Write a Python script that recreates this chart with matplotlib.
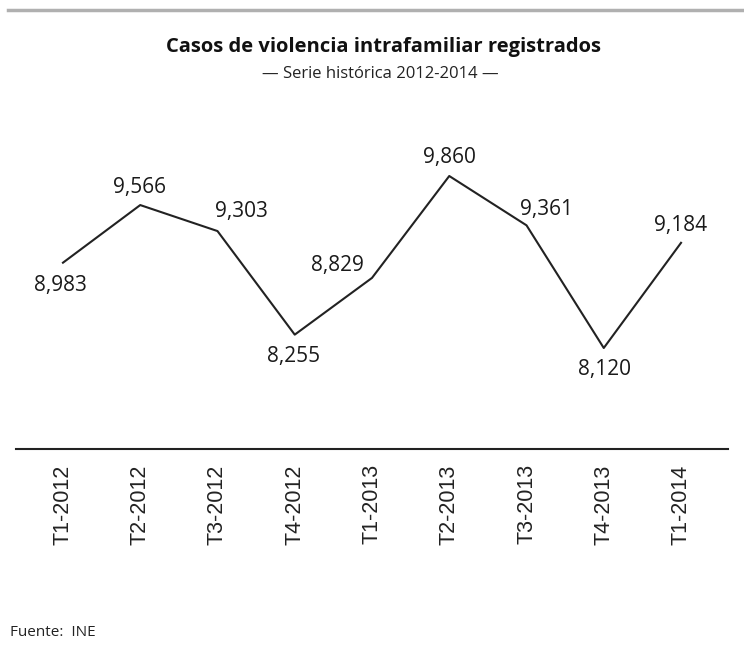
import matplotlib
matplotlib.use("Agg")
import matplotlib.pyplot as plt

# data
periodos = ["T1-2012", "T2-2012", "T3-2012", "T4-2012", "T1-2013",
            "T2-2013", "T3-2013", "T4-2013", "T1-2014"]
casos = [8983, 9566, 9303, 8255, 8829, 9860, 9361, 8120, 9184]

# label offsets (pixels) around each point
offsets = [(-3, -23), (-1, 18), (24, 20), (-1, -22), (-35, 12),
           (0, 19), (20, 16), (1, -22), (0, 17)]

fig = plt.figure(figsize=(7.44, 6.5), dpi=100)
ax = fig.add_axes([16 / 744, 1 - 449 / 650, 712 / 744, 349 / 650])

x = list(range(len(casos)))
ax.plot(x, casos, color="#222222", lw=1.5)

for i, v in enumerate(casos):
    ax.annotate(f"{v:,}", (i, v), xytext=offsets[i], textcoords="offset pixels",
                ha="center", va="center", fontsize=15, color="#1a1a1a",
                family=["Open Sans", "DejaVu Sans"])

ax.set_xlim(-0.608, 8.608)
ax.set_ylim(7098, 10629)
ax.set_xticks(x)
ax.set_xticklabels(periodos, rotation=90, fontsize=15.5, color="#222222",
                   family=["Liberation Sans", "DejaVu Sans"])
ax.tick_params(axis="x", length=0, pad=11)
ax.set_yticks([])
for s in ["top", "left", "right"]:
    ax.spines[s].set_visible(False)
ax.spines["bottom"].set_color("#222222")
ax.spines["bottom"].set_linewidth(1.5)

# gray rule at the top
fig.add_artist(plt.Line2D([8 / 744, 1], [1 - 10 / 650] * 2, color="#b0b0b0",
                          lw=2.5, transform=fig.transFigure))

fig.text(383 / 744, 1 - 47 / 650, "Casos de violencia intrafamiliar registrados",
         ha="center", va="center", fontsize=14.5, fontweight="bold", color="#111111",
         family=["Open Sans", "DejaVu Sans"])
fig.text(380 / 744, 1 - 74 / 650, "— Serie histórica 2012-2014 —",
         ha="center", va="center", fontsize=12, color="#222222",
         family=["Open Sans", "DejaVu Sans"])
fig.text(10 / 744, 1 - 632 / 650, "Fuente:  INE", ha="left", va="center",
         fontsize=11, color="#222222", family=["Open Sans", "DejaVu Sans"])

fig.savefig("out.png", dpi=100)
